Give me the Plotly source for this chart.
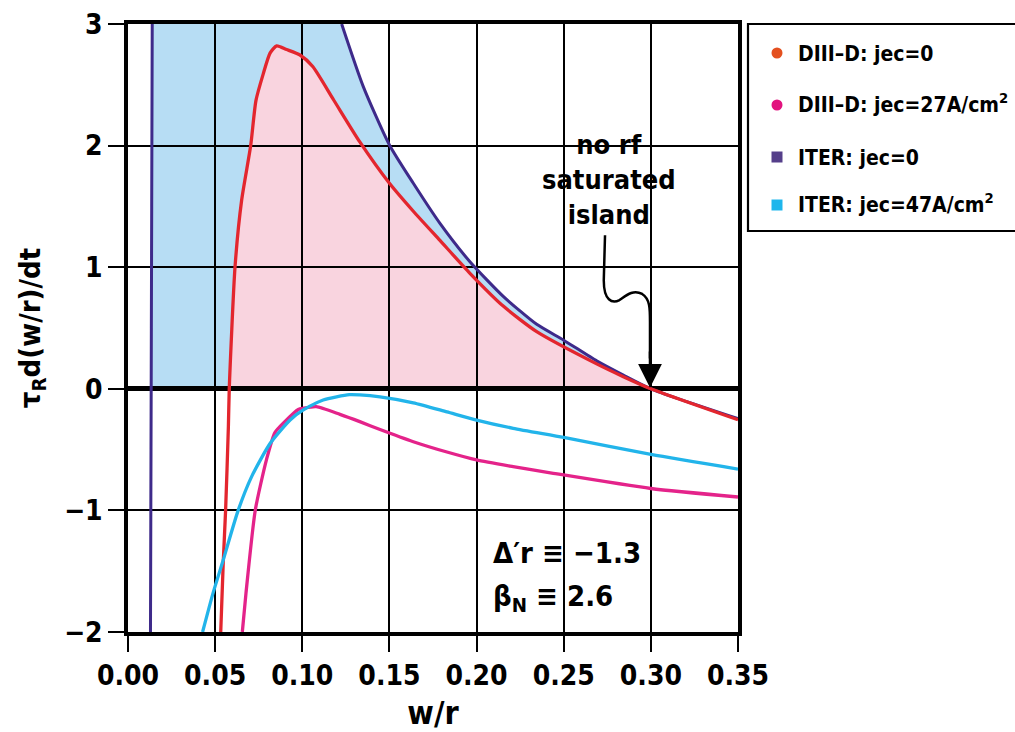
import plotly.graph_objects as go

# ---- data ----
# DIII-D: jec=0 (red)
x_d0 = [0.0532, 0.0547, 0.0560, 0.0576, 0.0581, 0.0614, 0.0652, 0.0704, 0.0734, 0.0776, 0.0815,
        0.0853, 0.0910, 0.0987, 0.1060, 0.1180, 0.1330, 0.1500, 0.1637, 0.1790, 0.1962, 0.2153,
        0.2345, 0.2689, 0.2842, 0.3000, 0.3500]
y_d0 = [-2.0, -1.41, -1.0, -0.31, 0.0, 1.0, 1.55, 2.0, 2.37, 2.59, 2.76,
        2.82, 2.79, 2.745, 2.65, 2.375, 2.03, 1.69, 1.46, 1.22, 0.95, 0.68,
        0.47, 0.205, 0.10, 0.0, -0.255]
# DIII-D: jec=27 A/cm2 (magenta)
x_d27 = [0.0656, 0.0677, 0.0730, 0.0795, 0.0843, 0.0900, 0.0977, 0.1006, 0.1080, 0.1216, 0.1330,
         0.1446, 0.1637, 0.1830, 0.2000, 0.2210, 0.2440, 0.3000, 0.3500]
y_d27 = [-2.0, -1.68, -1.0, -0.58, -0.36, -0.27, -0.17, -0.16, -0.147, -0.21, -0.27,
         -0.335, -0.435, -0.52, -0.585, -0.64, -0.695, -0.82, -0.89]
# ITER: jec=0 (purple) - two branches (the curve leaves the top of the frame between them)
x_i0_left = [0.0129, 0.0131, 0.0133, 0.0135, 0.0137, 0.0139]
y_i0_left = [-2.0, -1.0, 0.0, 1.0, 2.0, 3.0]
x_i0_right = [0.1226, 0.1350, 0.1500, 0.1637, 0.1790, 0.1962, 0.2153, 0.2345, 0.2500, 0.2689,
              0.2842, 0.3000, 0.3500]
y_i0_right = [3.0, 2.485, 2.005, 1.69, 1.36, 1.045, 0.76, 0.53, 0.40, 0.23, 0.113, 0.0, -0.245]
# ITER: jec=47 A/cm2 (cyan)
x_i47 = [0.0428, 0.0488, 0.0546, 0.0632, 0.0710, 0.0815, 0.0930, 0.1006, 0.1120, 0.1270, 0.1330,
         0.1446, 0.1637, 0.1830, 0.2000, 0.2210, 0.2500, 0.3000, 0.3500]
y_i47 = [-2.0, -1.68, -1.41, -1.0, -0.72, -0.45, -0.256, -0.174, -0.092, -0.048, -0.05,
         -0.066, -0.115, -0.19, -0.257, -0.325, -0.40, -0.54, -0.66]

series_names = ["DIII\u2013D: jec=0", "DIII\u2013D: jec=27A/cm<sup>2</sup>",
                "ITER: jec=0", "ITER: jec=47A/cm<sup>2</sup>"]
legend_colors = ["#E4501F", "#E2137F", "#553F8A", "#1EB6EC"]
legend_symbols = ["circle", "circle", "rect", "rect"]

x_ticks = [0.0, 0.05, 0.10, 0.15, 0.20, 0.25, 0.30, 0.35]
x_ticklabels = ["0.00", "0.05", "0.10", "0.15", "0.20", "0.25", "0.30", "0.35"]
y_ticks = [-2, -1, 0, 1, 2, 3]

FONT = "DejaVu Sans Condensed, Liberation Sans Narrow, Arial Narrow, sans-serif"
RED, MAG, PUR, CYA = "#E3262E", "#E4238A", "#3E2A8A", "#22B4EA"
BLUE_FILL, PINK_FILL = "#B7DDF4", "#F9D4DF"

YMAX = 3.0

# page geometry (px) used to place the legend box outside the plot area
W, H = 1015, 732
ML, MR, MT, MB = 128, 277, 24, 100
PW, PH = W - ML - MR, H - MT - MB


def px2paper_x(px):
    return (px - ML) / PW


def px2paper_y(py):
    return (H - MB - py) / PH


def fill_path(xs, ys):
    pts = [(x, min(y, YMAX)) for x, y in zip(xs, ys) if y >= 0]
    d = "M {},{} ".format(pts[0][0], 0.0)
    d += " ".join("L {},{}".format(x, y) for x, y in pts)
    d += " L {},{} Z".format(pts[-1][0], 0.0)
    return d


fig = go.Figure()

fig.add_trace(go.Scatter(x=x_i0_left + [None] + x_i0_right, y=y_i0_left + [None] + y_i0_right,
                         name="ITER: jec=0", mode="lines",
                         line=dict(color=PUR, width=3, shape="spline", smoothing=0.6)))
fig.add_trace(go.Scatter(x=x_d0, y=y_d0, mode="lines", name="DIII-D: jec=0",
                         line=dict(color=RED, width=3.3, shape="spline", smoothing=0.6)))
fig.add_trace(go.Scatter(x=x_d27, y=y_d27, mode="lines", name="DIII-D: jec=27A/cm2",
                         line=dict(color=MAG, width=3.3, shape="spline", smoothing=0.6)))
fig.add_trace(go.Scatter(x=x_i47, y=y_i47, mode="lines", name="ITER: jec=47A/cm2",
                         line=dict(color=CYA, width=3.3, shape="spline", smoothing=0.6)))

shapes = [
    dict(type="path", xref="x", yref="y", layer="below", line=dict(width=0),
         fillcolor=BLUE_FILL, path=fill_path(x_i0_left + x_i0_right, y_i0_left + y_i0_right)),
    dict(type="path", xref="x", yref="y", layer="below", line=dict(width=0),
         fillcolor=PINK_FILL, path=fill_path(x_d0, y_d0)),
    # curvy arrow body
    dict(type="path", xref="x", yref="y", layer="above", line=dict(color="black", width=2.5),
         path="M 0.2737,1.262 L 0.2730,0.90 C 0.2728,0.72 0.2780,0.70 0.2820,0.73 "
              "C 0.2860,0.77 0.2900,0.82 0.2950,0.78 C 0.2995,0.74 0.2995,0.66 0.2995,0.55 "
              "L 0.2995,0.25"),
    # legend frame (extends past the right page edge, as in the original)
    dict(type="rect", xref="paper", yref="paper", layer="above",
         x0=px2paper_x(748), x1=px2paper_x(1040), y0=px2paper_y(231), y1=px2paper_y(24),
         line=dict(color="black", width=2.2), fillcolor="white"),
]

annotations = [
    dict(x=0.2995, y=0.0, ax=0.2995, ay=0.32, xref="x", yref="y", axref="x", ayref="y",
         text="", showarrow=True, arrowhead=2, arrowsize=1.9, arrowwidth=2.5, arrowcolor="black",
         standoff=1),
    dict(x=0.276, y=1.72, xref="x", yref="y", text="no rf<br>saturated<br>island",
         showarrow=False, align="center", xanchor="center", yanchor="middle",
         font=dict(family=FONT, size=27, color="black", weight="bold")),
    dict(x=0.208, y=-1.35, xref="x", yref="y", text="\u0394\u2032r \u2261 \u22121.3",
         showarrow=False, xanchor="left", yanchor="middle",
         font=dict(family=FONT, size=29, color="black", weight="bold")),
    dict(x=0.208, y=-1.72, xref="x", yref="y", text="\u03b2<sub>N</sub> \u2261 2.6",
         showarrow=False, xanchor="left", yanchor="middle",
         font=dict(family=FONT, size=29, color="black", weight="bold")),
]

# legend rows
row_centers = [53, 105, 157, 205]
for nm, col, sym, yc in zip(series_names, legend_colors, legend_symbols, row_centers):
    r = 5.5
    shapes.append(dict(type=sym if sym == "rect" else "circle", xref="paper", yref="paper",
                       layer="above",
                       x0=px2paper_x(777 - r), x1=px2paper_x(777 + r),
                       y0=px2paper_y(yc + r), y1=px2paper_y(yc - r),
                       line=dict(width=0), fillcolor=col))
    off = -2 if "<sup>" in nm else 1
    annotations.append(dict(x=px2paper_x(796), y=px2paper_y(yc + off), xref="paper", yref="paper",
                            text=nm, showarrow=False, xanchor="left", yanchor="middle",
                            font=dict(family=FONT, size=21, color="black", weight="bold")))

fig.update_layout(
    width=W, height=H,
    margin=dict(l=ML, r=MR, t=MT, b=MB),
    paper_bgcolor="white", plot_bgcolor="white",
    font=dict(family=FONT, color="black", weight="bold"),
    shapes=shapes, annotations=annotations,
    showlegend=False,
)

fig.update_xaxes(range=[0, 0.35], tickvals=x_ticks, ticktext=x_ticklabels, automargin=False,
                 showgrid=True, gridcolor="black", gridwidth=1.5,
                 zeroline=False, showline=True, linecolor="black", linewidth=3.5, mirror=True,
                 ticks="outside", ticklen=16, tickwidth=1.5, tickcolor="black",
                 tickfont=dict(family=FONT, size=28, color="black", weight="bold"),
                 title=dict(text="w/r", standoff=16,
                            font=dict(family=FONT, size=32, color="black", weight="bold")))
fig.update_yaxes(range=[-2, 3], tickvals=y_ticks, automargin=False,
                 showgrid=True, gridcolor="black", gridwidth=1.5,
                 zeroline=True, zerolinecolor="black", zerolinewidth=5,
                 showline=True, linecolor="black", linewidth=3.5, mirror=True,
                 ticks="outside", ticklen=16, tickwidth=1.5, tickcolor="black",
                 tickfont=dict(family=FONT, size=28, color="black", weight="bold"),
                 title=dict(text="\u03c4<sub>R</sub>d(w/r)/dt", standoff=16,
                            font=dict(family=FONT, size=29, color="black", weight="bold")))

fig.write_html("out.html")
